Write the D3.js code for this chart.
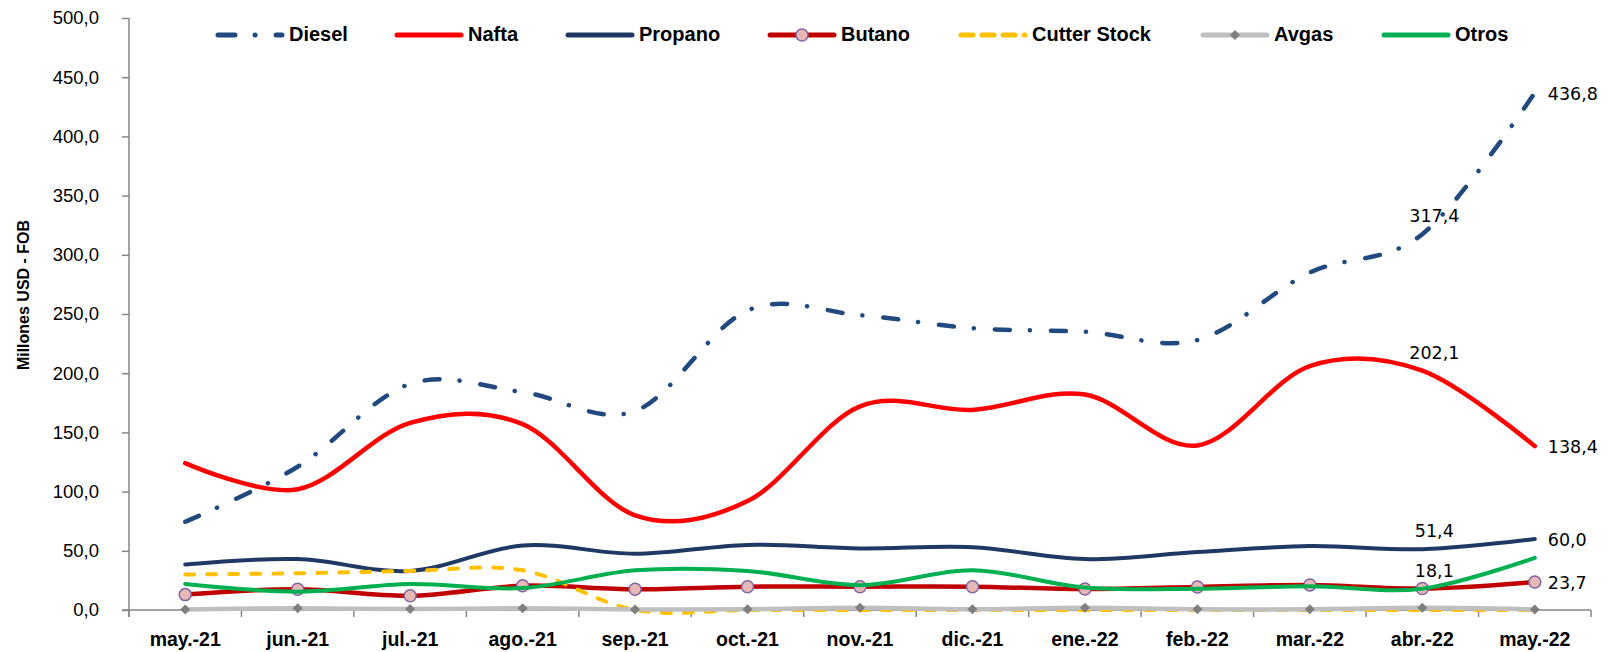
<!DOCTYPE html>
<html><head><meta charset="utf-8">
<script src="https://cdn.jsdelivr.net/npm/d3@7"></script>
<style>body{margin:0;background:#fff}svg{display:block}</style>
</head><body><svg id="c" width="1607" height="652"></svg>
<script>
const categories = ['may.-21','jun.-21','jul.-21','ago.-21','sep.-21','oct.-21','nov.-21','dic.-21','ene.-22','feb.-22','mar.-22','abr.-22','may.-22'];
const diesel  = [74.5, 121, 191, 184, 168, 253, 249, 238, 235, 228, 285, 317.4, 436.8];
const nafta   = [124, 102, 158, 157, 80, 92, 172, 169, 182, 139, 206, 202.1, 138.4];
const propano = [38.5, 43, 33, 54.5, 47.5, 55, 52, 53, 43, 49, 54, 51.4, 60.0];
const butano  = [13, 17.5, 12, 20.5, 17.5, 19.7, 19.7, 19.7, 17.7, 19.4, 21.2, 18.1, 23.7];
const cutter  = [30, 31, 33, 33.5, 0, 0, 0, 0, 0, 0, 0, 0, 0];
const avgas   = [0.5, 1.5, 0.8, 1.5, 0.5, 0.6, 1.8, 0.6, 1.8, 0.6, 0.6, 1.8, 0.5];
const otros   = [22, 15.5, 22, 18.5, 33.5, 33, 21, 33.5, 19, 18, 20, 18, 44];
const yTicks  = [0, 50, 100, 150, 200, 250, 300, 350, 400, 450, 500];
const seriesNames = ['Diesel','Nafta','Propano','Butano','Cutter Stock','Avgas','Otros'];
// data labels: [series index, category index, placement]
const dataLabels = [[0,11,'above'],[0,12,'right'],[1,11,'above'],[1,12,'right'],[2,11,'above'],[2,12,'right'],[3,11,'above'],[3,12,'right']];

const values = [diesel, nafta, propano, butano, cutter, avgas, otros];
const styles = [
  {color:'#21497F', width:4.5, dash:'15 20 0.1 21', cap:'round'},
  {color:'#FF0000', width:4.5},
  {color:'#1F3864', width:4},
  {color:'#C00000', width:4.5, marker:'circle'},
  {color:'#FFC000', width:4, dash:'9 13', cap:'round'},
  {color:'#BFBFBF', width:4.5, marker:'diamond'},
  {color:'#00B050', width:4}
];

const svg = d3.select('#c');
const x = d3.scaleBand().domain(categories).range([129, 1591]).padding(0);
const y = d3.scaleLinear().domain([0, 500]).range([610, 18]);
const cx = c => x(c) + x.bandwidth()/2;

// Y axis
const yAxis = svg.append('g').attr('transform','translate(129,0)')
  .call(d3.axisLeft(y).tickValues(yTicks).tickSize(7).tickPadding(23)
    .tickFormat(d => d.toFixed(1).replace('.', ',')));
yAxis.select('.domain').attr('stroke','#868686').attr('stroke-width',1.5).attr('d','M0,18V617');
yAxis.selectAll('.tick line').attr('stroke','#868686').attr('stroke-width',1.5);
yAxis.selectAll('.tick text').attr('font-family','Liberation Sans, Arial, sans-serif').attr('font-size',18.5).attr('fill','#000');

// X axis
const xa = svg.append('g');
xa.append('line').attr('x1',122).attr('x2',1591).attr('y1',610).attr('y2',610).attr('stroke','#868686').attr('stroke-width',1.5);
d3.range(categories.length+1).forEach(i => {
  const xx = x.range()[0] + i*x.step();
  xa.append('line').attr('x1',xx).attr('x2',xx).attr('y1',610).attr('y2',617).attr('stroke','#868686').attr('stroke-width',1.5);
});
xa.selectAll('text.xl').data(categories).join('text').attr('class','xl')
  .attr('x', d => cx(d)).attr('y', 646).attr('text-anchor','middle')
  .attr('font-family','Liberation Sans, Arial, sans-serif').attr('font-weight','bold').attr('font-size',19.5).text(d => d);

// Y title
svg.append('text').attr('transform','translate(29,295) rotate(-90)').attr('text-anchor','middle')
  .attr('font-family','Liberation Sans, Arial, sans-serif').attr('font-weight','bold').attr('font-size',16).text('Millones USD - FOB');

const line = d3.line().x((d,i) => cx(categories[i])).y(d => y(d)).curve(d3.curveCardinal.tension(0));

function diamond(g, px, py, r, color){
  g.append('path').attr('d',`M${px},${py-r}L${px+r},${py}L${px},${py+r}L${px-r},${py}Z`).attr('fill',color);
}
function circle(g, px, py){
  g.append('circle').attr('cx',px).attr('cy',py).attr('r',6).attr('fill','#E6B9B8').attr('stroke','#8064A2').attr('stroke-width',1.5);
}

values.forEach((vals, s) => {
  const st = styles[s];
  const g = svg.append('g');
  g.append('path').datum(vals).attr('d', line).attr('fill','none')
    .attr('stroke', st.color).attr('stroke-width', st.width)
    .attr('stroke-dasharray', st.dash || null).attr('stroke-linecap', st.cap || 'round').attr('stroke-linejoin','round');
  if (st.marker === 'circle') vals.forEach((v,i) => circle(g, cx(categories[i]), y(v)));
  if (st.marker === 'diamond') vals.forEach((v,i) => diamond(g, cx(categories[i]), y(v), 5, '#7F7F7F'));
});

// data labels
dataLabels.forEach(([s,i,pos]) => {
  const v = values[s][i];
  const px = cx(categories[i]), py = y(v);
  const t = svg.append('text').attr('font-family','DejaVu Sans, sans-serif').attr('font-size',17.5).attr('fill','#000')
    .text(v.toFixed(1).replace('.', ','));
  if (pos === 'right') t.attr('x', px+13).attr('y', py+2).attr('dominant-baseline','middle');
  else t.attr('x', px+12).attr('y', py-17).attr('text-anchor','middle').attr('dominant-baseline','middle');
});

// legend
const legendX = [218, 397, 568, 770, 961, 1203, 1384];
seriesNames.forEach((name, s) => {
  const st = styles[s];
  const g = svg.append('g');
  const x0 = legendX[s], x1 = x0 + 64, ly = 35;
  g.append('line').attr('x1',x0).attr('x2',x1).attr('y1',ly).attr('y2',ly)
    .attr('stroke',st.color).attr('stroke-width',5)
    .attr('stroke-dasharray', s===0 ? '17 20 0.1 21' : (st.dash ? '12 9' : null)).attr('stroke-linecap','round');
  if (st.marker === 'circle') circle(g, (x0+x1)/2, ly);
  if (st.marker === 'diamond') diamond(g, (x0+x1)/2, ly, 5, '#7F7F7F');
  g.append('text').attr('x', x1+7).attr('y', ly+1).attr('dominant-baseline','middle')
    .attr('font-family','Liberation Sans, Arial, sans-serif').attr('font-weight','bold').attr('font-size',20).text(name);
});
</script></body></html>
